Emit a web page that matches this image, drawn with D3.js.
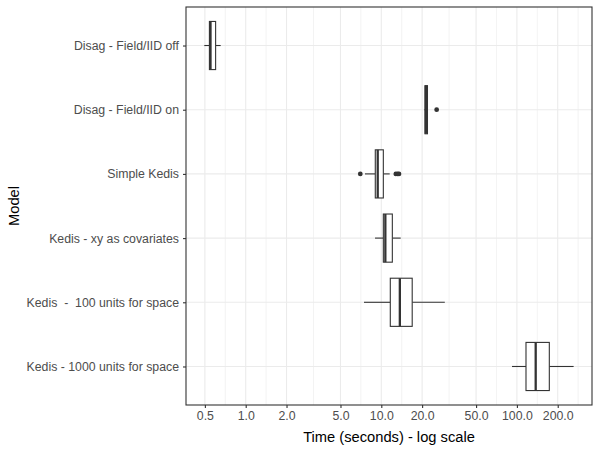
<!DOCTYPE html>
<html>
<head>
<meta charset="utf-8">
<script src="https://cdn.jsdelivr.net/npm/d3@7"></script>
<style>
  body { margin: 0; background: #fff; }
  svg text { font-family: Arial, "Liberation Sans", sans-serif; }
</style>
</head>
<body>
<div id="chart"></div>
<script>
//--------------------------------------------------------------
// DATA (seconds)
//--------------------------------------------------------------
var models = ["Disag - Field/IID off", "Disag - Field/IID on", "Simple Kedis",
   "Kedis - xy as covariates", "Kedis  -  100 units for space", "Kedis - 1000 units for space"];
var whiskerLow = [0.495, 20.8, 7.58, 8.99, 7.45, 92.0];
var q1 = [0.54, 21.0, 9.03, 10.35, 11.65, 116.7];
var median = [0.55, 21.3, 9.41, 10.71, 13.7, 137.6];
var q3 = [0.60, 21.9, 10.35, 12.06, 16.9, 173.4];
var whiskerHigh = [0.654, 21.9, 11.53, 13.9, 29.4, 262];
var outliers = [[], [25.6], [7.0, 12.8, 13.2, 13.5], [], [], []];
var xTicks = [0.5, 1, 2, 5, 10, 20, 50, 100, 200];
var xMinor = [0.707, 1.414, 3.162, 7.07, 14.14, 31.62, 70.7, 141.4, 282.8];

//--------------------------------------------------------------
// SIZE
//--------------------------------------------------------------
var width = 600;
var height = 450;
var margin = { top: 7, right: 8, bottom: 45, left: 186 };
var chartWidth = width - margin.left - margin.right;
var chartHeight = height - margin.top - margin.bottom;

var svg = d3.select("#chart").append("svg")
   .attr("width", width)
   .attr("height", height);

var chart = svg.append("g")
   .attr("transform", `translate(${margin.left},${margin.top})`);

// log x scale: 1.0 sits at ~245.7px, 135.6px per decade
var x = d3.scaleLog()
   .domain([Math.pow(10, (186 - 245.7) / 135.6), Math.pow(10, (592 - 245.7) / 135.6)])
   .range([0, chartWidth]);

var y = d3.scalePoint()
   .domain(models)
   .range([0, chartHeight])
   .padding(0.6);

var step = chartHeight / 6.2;
var boxH = step * 0.75;

// grid lines
chart.selectAll("line.minor")
   .data(xMinor.filter(d => x(d) > 0 && x(d) < chartWidth))
   .enter().append("line")
   .attr("x1", d => x(d)).attr("x2", d => x(d))
   .attr("y1", 0).attr("y2", chartHeight)
   .attr("stroke", "#ebebeb").attr("stroke-width", 0.6);

chart.selectAll("line.majorx")
   .data(xTicks)
   .enter().append("line")
   .attr("x1", d => x(d)).attr("x2", d => x(d))
   .attr("y1", 0).attr("y2", chartHeight)
   .attr("stroke", "#ebebeb").attr("stroke-width", 1.1);

chart.selectAll("line.majory")
   .data(models)
   .enter().append("line")
   .attr("x1", 0).attr("x2", chartWidth)
   .attr("y1", d => y(d)).attr("y2", d => y(d))
   .attr("stroke", "#ebebeb").attr("stroke-width", 1.1);

// boxplots
var boxes = chart.selectAll("g.box")
   .data(models.map((m, i) => ({ m: m, i: i })))
   .enter().append("g");

boxes.append("line")
   .attr("x1", d => x(whiskerLow[d.i])).attr("x2", d => x(q1[d.i]))
   .attr("y1", d => y(d.m)).attr("y2", d => y(d.m))
   .attr("stroke", "#333").attr("stroke-width", 1.1);

boxes.append("line")
   .attr("x1", d => x(q3[d.i])).attr("x2", d => x(whiskerHigh[d.i]))
   .attr("y1", d => y(d.m)).attr("y2", d => y(d.m))
   .attr("stroke", "#333").attr("stroke-width", 1.1);

boxes.append("rect")
   .attr("x", d => x(q1[d.i]))
   .attr("width", d => x(q3[d.i]) - x(q1[d.i]))
   .attr("y", d => y(d.m) - boxH / 2)
   .attr("height", boxH)
   .attr("fill", "#fff")
   .attr("stroke", "#333").attr("stroke-width", 1.1);

boxes.append("line")
   .attr("x1", d => x(median[d.i])).attr("x2", d => x(median[d.i]))
   .attr("y1", d => y(d.m) - boxH / 2).attr("y2", d => y(d.m) + boxH / 2)
   .attr("stroke", "#333").attr("stroke-width", 2.3);

boxes.selectAll("circle")
   .data(d => outliers[d.i].map(v => ({ v: v, m: d.m })))
   .enter().append("circle")
   .attr("cx", d => x(d.v))
   .attr("cy", d => y(d.m))
   .attr("r", 2.4)
   .attr("fill", "#333");

// panel border
chart.append("rect")
   .attr("width", chartWidth).attr("height", chartHeight)
   .attr("fill", "none")
   .attr("stroke", "#333").attr("stroke-width", 1.1);

// axes
var xAxis = chart.append("g")
   .attr("transform", `translate(0,${chartHeight})`)
   .call(d3.axisBottom(x).tickValues(xTicks).tickFormat(d3.format(".1f")).tickSize(3).tickPadding(3));

var yAxis = chart.append("g")
   .call(d3.axisLeft(y).tickSize(3).tickPadding(4));

[xAxis, yAxis].forEach(a => {
   a.select(".domain").remove();
   a.selectAll(".tick line").attr("stroke", "#333").attr("stroke-width", 1.1);
   a.selectAll(".tick text").attr("fill", "#4d4d4d").attr("font-size", 12.3);
});
yAxis.selectAll(".tick text").style("white-space", "pre").attr("xml:space", "preserve");

// axis titles
svg.append("text")
   .attr("x", margin.left + chartWidth / 2)
   .attr("y", 442)
   .attr("text-anchor", "middle")
   .attr("font-size", 14.7)
   .attr("fill", "#000")
   .text("Time (seconds) - log scale");

svg.append("text")
   .attr("transform", `translate(19,${margin.top + chartHeight / 2}) rotate(-90)`)
   .attr("text-anchor", "middle")
   .attr("font-size", 14.7)
   .attr("fill", "#000")
   .text("Model");
</script>
</body>
</html>
